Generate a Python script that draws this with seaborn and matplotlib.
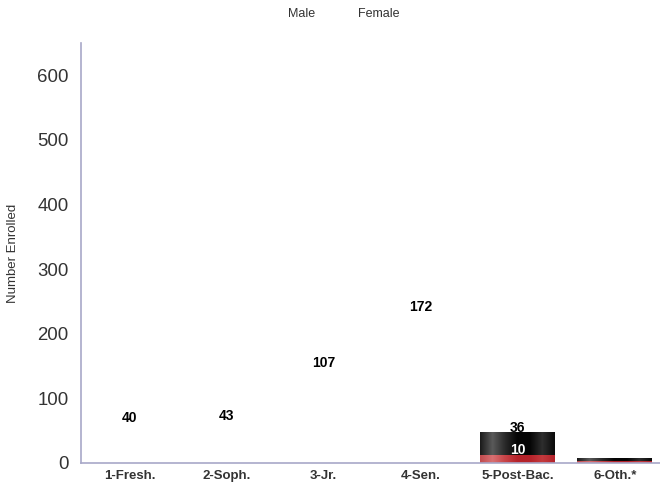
import numpy as np
import pandas as pd
import matplotlib
matplotlib.use("Agg")
import matplotlib.pyplot as plt
from matplotlib.colors import LinearSegmentedColormap
from matplotlib.patches import Patch
import seaborn as sns

# Enrollment by class level (chart captured mid-animation)
categories = ["1-Fresh.", "2-Soph.", "3-Jr.", "4-Sen.", "5-Post-Bac.", "6-Oth.*"]
male = [0, 0, 0, 0, 12, 3]
female = [0, 0, 0, 0, 36, 5]

# value labels and the height they sit at in this frame
label_text = ["40", "43", "107", "172", "36", "10"]
label_cat = ["1-Fresh.", "2-Soph.", "3-Jr.", "4-Sen.", "5-Post-Bac.", "5-Post-Bac."]
label_y = [70, 72, 155, 241, 54, 20]

df = pd.DataFrame({"category": categories, "male": male, "female": female})
df["total"] = df["male"] + df["female"]

sns.set_style("white")
plt.rcParams["font.family"] = ["Liberation Sans", "DejaVu Sans"]

fig = plt.figure(figsize=(6.6, 4.92), dpi=100)
ax = fig.add_axes([0.123, 0.059, 0.882, 0.854])

# stacked bars: total first (dark top part), male drawn over it
sns.barplot(data=df, x="category", y="total", color="#111111", width=0.77,
            saturation=1, ax=ax)
n_total = len(ax.patches)
sns.barplot(data=df, x="category", y="male", color="#c0272d", width=0.77,
            saturation=1, ax=ax)

# glossy horizontal gradient on each bar
dark_cmap = LinearSegmentedColormap.from_list(
    "dark", ["#1a1a1a", "#5a5a5a", "#2a2a2a", "#050505", "#050505", "#2e2e2e", "#0a0a0a"])
red_cmap = LinearSegmentedColormap.from_list(
    "red", ["#c04a4e", "#d87072", "#c84448", "#b5222a", "#b5222a", "#c43a3e", "#b3222a"])
grad = np.linspace(0, 1, 256).reshape(1, -1)
for i, p in enumerate(ax.patches):
    h = p.get_height()
    if h <= 0:
        continue
    x0, y0 = p.get_x(), p.get_y()
    cmap = dark_cmap if i < n_total else red_cmap
    im = ax.imshow(grad, cmap=cmap, aspect="auto",
                   extent=[x0, x0 + p.get_width(), y0, y0 + h],
                   zorder=p.get_zorder() + 0.1 + (1 if i >= n_total else 0))
    im.set_clip_path(p)

ax.set_xlim(-0.5, 5.5)
ax.set_ylim(0, 650)
ax.set_yticks([0, 100, 200, 300, 400, 500, 600])
ax.tick_params(axis="y", labelsize=13.4, labelcolor="#333333", length=0, pad=9)
ax.tick_params(axis="x", labelsize=9.5, labelcolor="#333333", length=0, pad=5)
for t in ax.get_xticklabels():
    t.set_fontweight("bold")
ax.set_xlabel("")
ax.set_ylabel("Number Enrolled", fontsize=9.5, color="#333333")
ax.yaxis.set_label_coords(-0.117, 0.5)
ax.yaxis.label.set_verticalalignment("center")

for side in ["top", "right"]:
    ax.spines[side].set_visible(False)
for side in ["left", "bottom"]:
    ax.spines[side].set_color("#a8a8c8")
    ax.spines[side].set_linewidth(1.2)

pos = {c: i for i, c in enumerate(categories)}
for txt, cat, y in zip(label_text, label_cat, label_y):
    color = "white" if txt == "10" else "black"
    ax.text(pos[cat], y, txt, ha="center", va="center", fontsize=10,
            fontweight="bold", color=color, zorder=10)

# legend with no visible swatches
handles = [Patch(facecolor="none", edgecolor="none", label="Male"),
           Patch(facecolor="none", edgecolor="none", label="Female")]
fig.legend(handles=handles, loc="center", bbox_to_anchor=(0.521, 0.972), ncol=2,
           frameon=False, fontsize=9, handlelength=0, handletextpad=0,
           columnspacing=3.4, labelcolor="#333333")

fig.savefig("out.png", dpi=100)
